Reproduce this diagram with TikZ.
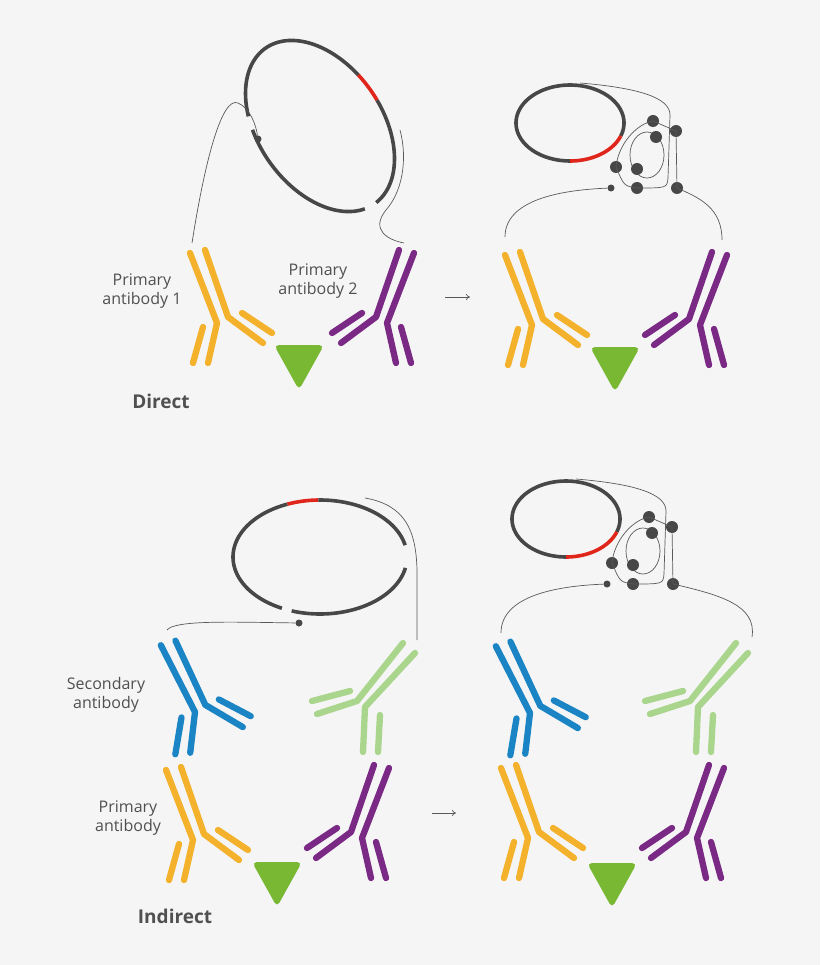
\documentclass[tikz,border=0pt]{standalone}
\usepackage{fontspec}
\setmainfont{Open Sans}
\usetikzlibrary{arrows.meta}
\definecolor{bg}{HTML}{F5F5F5}
\definecolor{ylw}{HTML}{F4B12B}
\definecolor{prp}{HTML}{7A2A85}
\definecolor{blu}{HTML}{1A84C4}
\definecolor{lgr}{HTML}{A9D58C}
\definecolor{tri}{HTML}{79B833}
\definecolor{dna}{HTML}{474747}
\definecolor{rd}{HTML}{E0261A}
\definecolor{txt}{HTML}{505050}
\begin{document}
\begin{tikzpicture}[x=1pt,y=-1pt,
  abl/.style={line width=6.3pt,line cap=round,line join=round},
  dnal/.style={line width=3.6pt,dna},
  thin/.style={line width=0.7pt,black!65},
  dot/.style={circle,fill=dna,inner sep=0pt,minimum size=12pt},
  sdot/.style={circle,fill=dna,inner sep=0pt,minimum size=7pt},
  lab/.style={text=txt,font=\fontsize{16}{19}\selectfont,align=center},
  ttl/.style={text=txt,font=\fontsize{19}{22}\selectfont\bfseries},
  pics/ab/.style={code={
    \draw[abl,#1] (-27,-70) -- (0,0) -- (-9,40);
    \draw[abl,#1] (-12,-73) -- (11,-6) -- (46,20);
    \draw[abl,#1] (-14,4) -- (-24,40);
    \draw[abl,#1] (25,-10) -- (55,10);
  }},
  pics/gab/.style={code={
    \draw[abl,lgr] (415,653) -- (365,707) -- (363,752);
    \draw[abl,lgr] (403,643) -- (357,701) -- (317,714);
    \draw[abl,lgr] (380,715) -- (378,752);
    \draw[abl,lgr] (312,701) -- (350,691);
  }},
  pics/trg/.style={code={
    \fill[tri,rounded corners=5pt] (-25,-9) -- (25,-9) -- (0,36) -- cycle;
  }},
  pics/cplx/.style={code={
    \draw[dnal] plot[domain=90:380,samples=80] ({570+54*cos(\x)},{123+38*sin(\x)});
    \draw[dnal,rd] plot[domain=20:90,samples=30] ({570+54*cos(\x)},{123+38*sin(\x)});
    \draw[thin] (647,155) ellipse[x radius=17,y radius=23];
    \node[dot] (d1) at (653,121) {};
    \node[dot] (d2) at (656,137) {};
    \node[dot] (d3) at (676,131) {};
    \node[dot] (d4) at (616,167) {};
    \node[dot] (d5) at (637,169) {};
    \node[dot] (d6) at (637,188) {};
    \node[dot] (d7) at (677,188) {};
    \node[sdot] (d8) at (611,188) {};
    \coordinate (t0) at (580,83);
    \coordinate (le) at (505,237);
    \draw[thin] (t0) .. controls (640,88) and (670,98) .. (670,115) -- (668,178) .. controls (667,188) .. (d6.center);
    \draw[thin] (d6.center) .. controls (624,186) .. (d4.center) .. controls (618,145) and (636,124) .. (d1.center) -- (d3.center) -- (d7.center);
    \draw[thin] (d8) .. controls (560,190) and (505,200) .. (le);
  }}
]
\fill[bg] (0,0) rectangle (820,965);
\useasboundingbox (0,0) rectangle (820,965);

% ---------- Direct, left ----------
\draw[dnal] plot[domain=121:258,samples=60] ({320+95*cos(\x)*cos(55)-62*sin(\x)*sin(55)},{126+95*cos(\x)*sin(55)+62*sin(\x)*cos(55)});
\draw[dnal,rd] plot[domain=258:277,samples=20] ({320+95*cos(\x)*cos(55)-62*sin(\x)*sin(55)},{126+95*cos(\x)*sin(55)+62*sin(\x)*cos(55)});
\draw[dnal] plot[domain=277:358,samples=50] ({320+95*cos(\x)*cos(55)-62*sin(\x)*sin(55)},{126+95*cos(\x)*sin(55)+62*sin(\x)*cos(55)});
\draw[dnal] plot[domain=10:112,samples=60] ({320+95*cos(\x)*cos(55)-62*sin(\x)*sin(55)},{126+95*cos(\x)*sin(55)+62*sin(\x)*cos(55)});
\node[sdot] (tl-dot) at (258,139) {};
\coordinate (tl-a) at (192,243);
\coordinate (tl-b) at (400,130);
\coordinate (tl-c) at (404,243);
\draw[thin] (tl-a) .. controls (205,160) and (222,96) .. (238,103) .. controls (250,108) and (256,125) .. (tl-dot);
\draw[thin] (tl-b) .. controls (408,160) and (402,192) .. (386,210) .. controls (370,230) and (388,240) .. (tl-c);

\pic at (217,323) {ab=ylw};
\pic[xscale=-1] at (387,323) {ab=prp};
\pic at (299,354) {trg};
\node[lab] (p1) at (142,291) {Primary\\antibody 1};
\node[lab] (p2) at (318,281) {Primary\\antibody 2};
\node[ttl] (dir) at (161,401) {Direct};

\coordinate (ar1a) at (445,297);
\coordinate (ar1b) at (470,297);
\draw[thin,-{To[length=4pt,width=6pt]}] (ar1a) -- (ar1b);

% ---------- Direct, right ----------
\pic {cplx};
\coordinate (tr-e) at (722,240);
\draw[thin] (d7.center) .. controls (700,198) and (722,208) .. (tr-e);
\pic at (532,325) {ab=ylw};
\pic[xscale=-1] at (700,325) {ab=prp};
\pic at (615,356) {trg};

% ---------- Indirect, left ----------
\draw[dnal] plot[domain=11:109,samples=60] ({320+87*cos(\x)},{557+57*sin(\x)});
\draw[dnal] plot[domain=116:248,samples=60] ({320+87*cos(\x)},{557+57*sin(\x)});
\draw[dnal,rd] plot[domain=248:269,samples=20] ({320+87*cos(\x)},{557+57*sin(\x)});
\draw[dnal] plot[domain=269:348,samples=50] ({320+87*cos(\x)},{557+57*sin(\x)});
\node[sdot] (bl-dot) at (299,623) {};
\coordinate (bl-a) at (167,630);
\coordinate (bl-b) at (365,498);
\coordinate (bl-c) at (417,640);
\draw[thin] (bl-dot) .. controls (230,622) and (175,620) .. (bl-a);
\draw[thin] (bl-b) .. controls (405,505) and (416,530) .. (417,570) -- (bl-c);

\pic[rotate=6] at (195,712) {ab=blu};
\pic {gab};
\pic at (193,840) {ab=ylw};
\pic[xscale=-1] at (362,838) {ab=prp};
\pic at (277,871) {trg};
\node[lab] (sec) at (106,695) {Secondary\\antibody};
\node[lab] (pri) at (128,818) {Primary\\antibody};
\node[ttl] (ind) at (175,916) {Indirect};

\coordinate (ar2a) at (432,813);
\coordinate (ar2b) at (456,813);
\draw[thin,-{To[length=4pt,width=6pt]}] (ar2a) -- (ar2b);

% ---------- Indirect, right ----------
\begin{scope}[shift={(-4,396)},name prefix=b-]
\pic {cplx};
\end{scope}
\coordinate (br-e) at (752,637);
\draw[thin] (b-d7.center) .. controls (720,595) and (757,605) .. (br-e);
\pic[rotate=6] at (530,713) {ab=blu};
\begin{scope}[shift={(333,0)}]
\pic {gab};
\end{scope}
\pic at (528,838) {ab=ylw};
\pic[xscale=-1] at (697,838) {ab=prp};
\pic at (612,872) {trg};
\end{tikzpicture}
\end{document}
